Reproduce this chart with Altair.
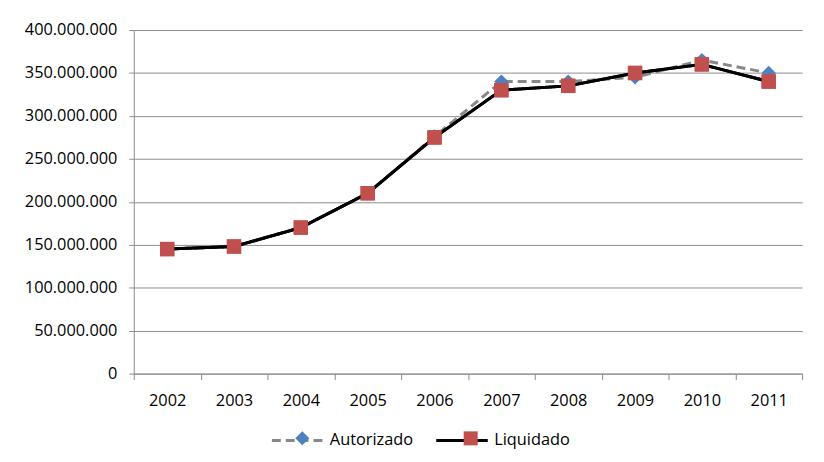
import altair as alt
import pandas as pd

# ---- data ----
years = ["2002", "2003", "2004", "2005", "2006", "2007", "2008", "2009", "2010", "2011"]
autorizado = [145e6, 148e6, 170e6, 210e6, 276e6, 340e6, 340e6, 345e6, 365e6, 350e6]
liquidado = [145e6, 148e6, 170e6, 210e6, 275e6, 330e6, 335e6, 350e6, 360e6, 340e6]
series_names = ["Autorizado", "Liquidado"]
y_ticks = [0, 50e6, 100e6, 150e6, 200e6, 250e6, 300e6, 350e6, 400e6]

rows = []
for name, vals in zip(series_names, [autorizado, liquidado]):
    for yr, v in zip(years, vals):
        rows.append({"year": yr, "value": v, "serie": name, "serie_m": name})
df = pd.DataFrame(rows)

FONT = "Open Sans"
FS = 16.5
GRAY_AX = "#8c8c8c"
GRID = "#8c8c8c"
LINE_GRAY = "#888888"
BLUE = "#4f81bd"
RED = "#c0504d"

x_enc = alt.X(
    "year:N",
    sort=years,
    scale=alt.Scale(type="band", paddingInner=0, paddingOuter=0),
    axis=alt.Axis(
        title=None, labelAngle=0, tickBand="extent", grid=False,
        domainColor=GRAY_AX, tickColor=GRAY_AX, tickSize=6, labelPadding=13,
        labelFont=FONT, labelFontSize=FS, labelColor="black",
    ),
)
y_enc = alt.Y(
    "value:Q",
    scale=alt.Scale(domain=[0, 400e6], nice=False),
    axis=alt.Axis(
        title=None, values=y_ticks, grid=True, gridColor=GRID, gridWidth=1,
        domainColor=GRAY_AX, tickColor=GRAY_AX, tickSize=5, labelPadding=12,
        labelFont=FONT, labelFontSize=FS, labelColor="black",
        labelExpr="replace(format(datum.value, ','), regexp(',', 'g'), '.')",
    ),
)

line_legend = alt.Legend(
    orient="none", legendX=138, legendY=387, direction="horizontal", title=None,
    symbolType="stroke", symbolSize=2704, symbolStrokeWidth=3, labelOffset=5,
    columnPadding=16, padding=0, labelFont=FONT, labelFontSize=FS, labelColor="black",
)
marker_legend = alt.Legend(
    orient="none", legendX=162, legendY=404, direction="horizontal", title=None,
    symbolSize=200, symbolStrokeWidth=0, labelOffset=0, labelExpr="''",
    columnPadding=153, padding=0, labelFont=FONT, labelFontSize=FS,
)

base = alt.Chart(df).encode(x=x_enc, y=y_enc)

lines = base.mark_line(strokeWidth=3).encode(
    color=alt.Color("serie:N", scale=alt.Scale(range=[LINE_GRAY, "black"]), legend=line_legend),
    strokeDash=alt.StrokeDash("serie:N", scale=alt.Scale(range=[[9, 5], [1, 0]]), legend=line_legend),
)
points = base.mark_point(filled=True, size=210, opacity=1, strokeWidth=0).encode(
    fill=alt.Fill("serie_m:N", scale=alt.Scale(range=[BLUE, RED]), legend=marker_legend),
    shape=alt.Shape("serie_m:N", scale=alt.Scale(range=["diamond", "square"]), legend=marker_legend),
)
liq_line = base.transform_filter(alt.datum.serie == "Liquidado").mark_line(
    strokeWidth=3, color="black")
liq_points = base.transform_filter(alt.datum.serie == "Liquidado").mark_point(
    filled=True, size=210, opacity=1, strokeWidth=0, shape="square", color=RED)

chart = alt.layer(lines, points, liq_line, liq_points).properties(
    width=675, height=347,
    autosize=alt.AutoSizeParams(type="none"),
    padding={"left": 127, "top": 20, "right": 14, "bottom": 87},
    background="white",
).configure_view(stroke=None)

chart.save("out.html", embed_options={"renderer": "svg", "actions": False})
